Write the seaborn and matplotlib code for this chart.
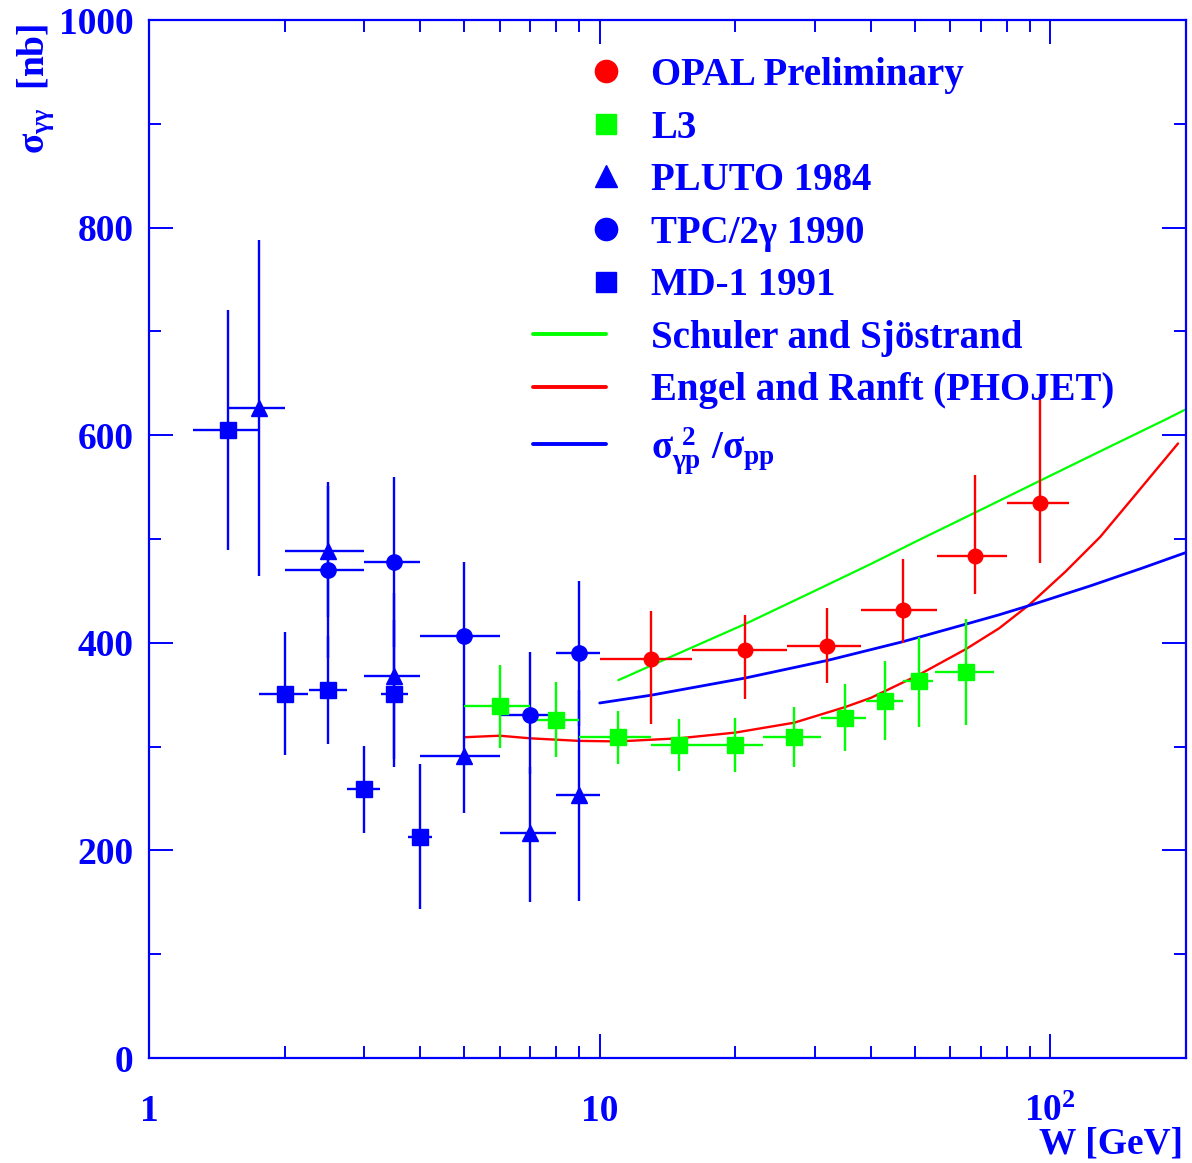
import numpy as np
import matplotlib
matplotlib.use("Agg")
import matplotlib.pyplot as plt
from matplotlib.lines import Line2D
from matplotlib.legend_handler import HandlerLine2DCompound
from matplotlib.ticker import FixedLocator, NullFormatter, MultipleLocator, LogLocator
import seaborn as sns

# ---------------- data ----------------
# OPAL Preliminary
opal_W = [13, 21, 32, 47, 68, 95]
opal_Wlo = [10, 16, 26, 38, 56, 80]
opal_Whi = [16, 26, 38, 56, 80, 110]
opal_s = [384, 393, 397, 432, 484, 535]
opal_edn = [62, 47, 36, 32, 37, 58]
opal_eup = [47, 34, 37, 49, 78, 105]

# L3
l3_W = [6, 8, 11, 15, 20, 27, 35, 43, 51, 65]
l3_Wlo = [5, 7, 9, 13, 17, 23, 31, 39, 47, 55.5]
l3_Whi = [7, 9, 13, 17, 23, 31, 39, 47, 55, 75]
l3_s = [339, 326, 309.5, 301.5, 302, 309, 328, 344, 363, 372]
l3_edn = [40, 36, 26, 25, 26, 29, 32, 38, 44, 51]
l3_eup = [40, 36, 25, 25, 26, 29, 32, 38, 43, 51]

# PLUTO 1984
pluto_W = [1.75, 2.5, 3.5, 5.0, 7.0, 9.0]
pluto_Wlo = [1.5, 2.0, 3.0, 4.0, 6.0, 8.0]
pluto_Whi = [2.0, 3.0, 4.0, 6.0, 8.0, 10.0]
pluto_s = [626, 488, 368, 291, 216.5, 253]
pluto_edn = [162, 63, 80, 55, 66, 102]
pluto_eup = [162, 63, 80, 50, 64, 102]

# TPC/2gamma 1990
tpc_W = [2.5, 3.5, 5.0, 7.0, 9.0]
tpc_Wlo = [2.0, 3.0, 4.0, 6.0, 8.0]
tpc_Whi = [3.0, 4.0, 6.0, 8.0, 10.0]
tpc_s = [470, 478, 407, 330, 390]
tpc_edn = [85, 82, 67, 56, 70]
tpc_eup = [85, 82, 71, 61, 70]

# MD-1 1991
md1_W = [1.5, 2.0, 2.5, 3.0, 3.5, 4.0]
md1_Wlo = [1.25, 1.75, 2.26, 2.75, 3.27, 3.76]
md1_Whi = [1.75, 2.25, 2.75, 3.25, 3.76, 4.25]
md1_s = [605, 351, 354.5, 259, 351, 213]
md1_edn = [116, 59, 52, 42, 71, 69]
md1_eup = [116, 59, 52, 42, 71, 70]

# Theory curves
ss_W = [11, 15, 21, 30, 40, 50, 70, 100, 140, 180, 200]
ss_s = [364, 390, 418, 450, 476, 497, 528, 561, 592, 615, 625]

er_W = [5, 6, 7, 9, 11, 15, 20, 27, 35, 40, 51, 65, 77, 90, 108, 129, 152, 192]
er_s = [309, 310.5, 308, 305.5, 305, 308, 313.5, 323, 338, 347, 369, 394, 414, 437, 468.5, 502, 539, 592]

reg_W = [10, 13, 21, 32, 47, 65, 77, 90, 123, 160, 200]
reg_s = [342, 349.5, 366, 383, 401, 418, 427, 436, 455, 472, 487]

legend_labels = ["OPAL Preliminary", "L3", "PLUTO 1984", "TPC/2\u03b3 1990", "MD-1 1991",
                 "Schuler and Sj\u00f6strand", "Engel and Ranft (PHOJET)",
                 r"$\sigma_{\gamma p}^{\ 2}\ /\sigma_{pp}$"]

x_ticks = [1, 10, 100]
x_ticklabels = ["1", "10", r"$10^{2}$"]

# ---------------- style ----------------
sns.set_theme(style="ticks")
plt.rcParams["font.family"] = ["Liberation Serif", "DejaVu Serif"]
plt.rcParams["font.weight"] = "bold"
plt.rcParams["mathtext.fontset"] = "custom"
plt.rcParams["mathtext.rm"] = "Liberation Serif:bold"
plt.rcParams["mathtext.it"] = "Liberation Serif:bold"
plt.rcParams["mathtext.bf"] = "Liberation Serif:bold"
plt.rcParams["mathtext.sf"] = "Liberation Serif:bold"

BLUE = (0, 0, 1)
RED = (1, 0, 0)
GREEN = (0, 1, 0)

fig = plt.figure(figsize=(11.92, 11.63), dpi=100)
ax = fig.add_axes([149 / 1192, 1 - 1058 / 1163, (1186 - 149) / 1192, (1058 - 20) / 1163])

# theory curves with seaborn
sns.lineplot(x=ss_W, y=ss_s, color=GREEN, linewidth=1.6, ax=ax, zorder=2)
sns.lineplot(x=er_W, y=er_s, color=RED, linewidth=1.7, ax=ax, zorder=2)
sns.lineplot(x=reg_W, y=reg_s, color=BLUE, linewidth=2.0, ax=ax, zorder=2)


def draw(W, Wlo, Whi, s, edn, eup, marker, color, ms):
    W = np.asarray(W, float)
    xerr = [W - np.asarray(Wlo, float), np.asarray(Whi, float) - W]
    yerr = [edn, eup]
    ax.errorbar(W, s, xerr=xerr, yerr=yerr, fmt=marker, color=color, mec=color, mfc=color,
                ms=ms, elinewidth=1.7, capsize=0, zorder=3)


draw(md1_W, md1_Wlo, md1_Whi, md1_s, md1_edn, md1_eup, "s", BLUE, 11)
draw(pluto_W, pluto_Wlo, pluto_Whi, pluto_s, pluto_edn, pluto_eup, "^", BLUE, 11)
draw(tpc_W, tpc_Wlo, tpc_Whi, tpc_s, tpc_edn, tpc_eup, "o", BLUE, 11)
draw(l3_W, l3_Wlo, l3_Whi, l3_s, l3_edn, l3_eup, "s", GREEN, 11)
draw(opal_W, opal_Wlo, opal_Whi, opal_s, opal_edn, opal_eup, "o", RED, 10.5)

ax.set_xscale("log")
ax.set_xlim(1, 200)
ax.set_ylim(0, 1000)

ax.xaxis.set_major_locator(FixedLocator(x_ticks))
ax.set_xticklabels(x_ticklabels)
ax.xaxis.set_minor_locator(LogLocator(base=10, subs=np.arange(2, 10), numticks=20))
ax.xaxis.set_minor_formatter(NullFormatter())
ax.yaxis.set_major_locator(MultipleLocator(200))
ax.yaxis.set_minor_locator(MultipleLocator(100))

ax.tick_params(axis="both", which="both", direction="in", top=True, right=True,
               colors=BLUE, labelcolor=BLUE)
ax.tick_params(which="major", length=17, width=1.4, labelsize=27)
ax.tick_params(which="minor", length=8.5, width=1.4)
ax.tick_params(axis="x", which="major", pad=26)
ax.tick_params(axis="y", which="major", pad=11)
for lab in ax.get_xticklabels() + ax.get_yticklabels():
    lab.set_fontweight("bold")

for sp in ax.spines.values():
    sp.set_color(BLUE)
    sp.set_linewidth(1.6)

ax.set_xlabel("W [GeV]", color=BLUE, fontsize=27, fontweight="bold", loc="right")
ax.xaxis.set_label_coords((1183 - 149) / 1037, (1058 - 1126) / 1038)
ax.set_ylabel(r"$\sigma_{\gamma\gamma}$  [nb]", color=BLUE, fontsize=27, fontweight="bold", loc="top")
ax.yaxis.set_label_coords((56 - 149) / 1037, 0.997)


# legend with markers at right end of handle
class RightMarkerHandler(HandlerLine2DCompound):
    def get_xdata(self, legend, xdescent, ydescent, width, height, fontsize):
        xdata = np.array([-xdescent, -xdescent + width])
        return xdata, np.array([-xdescent + width])


handles = [
    Line2D([], [], ls="none", marker="o", color=RED, ms=16),
    Line2D([], [], ls="none", marker="s", color=GREEN, ms=15),
    Line2D([], [], ls="none", marker="^", color=BLUE, ms=16),
    Line2D([], [], ls="none", marker="o", color=BLUE, ms=16),
    Line2D([], [], ls="none", marker="s", color=BLUE, ms=15),
    Line2D([], [], color=GREEN, lw=2.8),
    Line2D([], [], color=RED, lw=2.8),
    Line2D([], [], color=BLUE, lw=2.8),
]
leg = ax.legend(handles, legend_labels, loc="upper left",
                bbox_to_anchor=((533 - 149) / 1037, (1058 - 57) / 1038),
                frameon=False, fontsize=28, handlelength=1.88, handletextpad=1.16,
                labelspacing=0.40, borderpad=0, borderaxespad=0, numpoints=1,
                handler_map={Line2D: RightMarkerHandler()})
for t in leg.get_texts():
    t.set_color(BLUE)
    t.set_fontweight("bold")

fig.savefig("out.png", dpi=100)
